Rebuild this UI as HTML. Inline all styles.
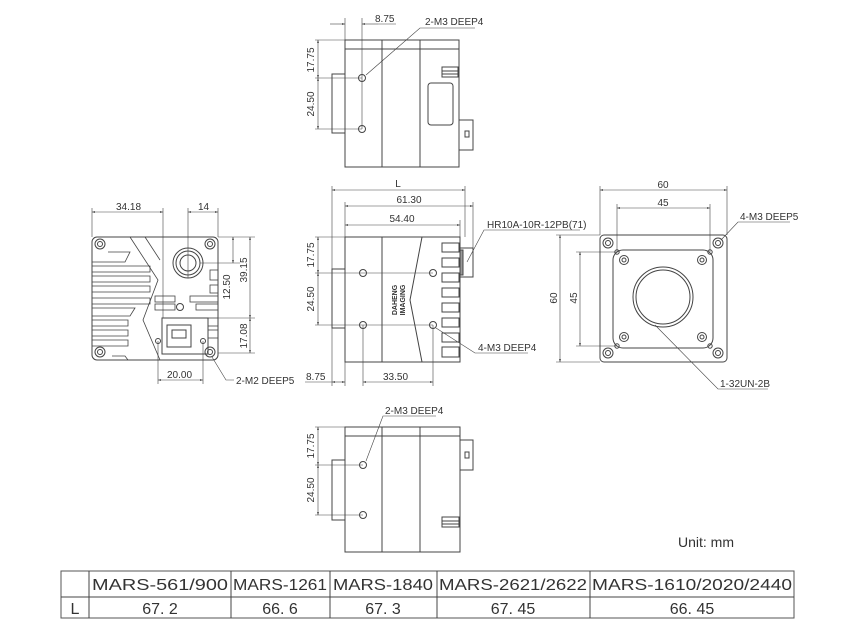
<!DOCTYPE html>
<html><head><meta charset="utf-8"><style>
html,body{margin:0;padding:0;background:#fff;}
svg{display:block;}
text{font-family:"Liberation Sans",sans-serif;fill:#333;}
</style></head><body>
<svg width="841" height="635" viewBox="0 0 841 635" xmlns="http://www.w3.org/2000/svg">
<defs>
<marker id="a" viewBox="0 0 10 10" refX="10" refY="5" markerWidth="7" markerHeight="5" orient="auto-start-reverse"><path d="M0,2 L10,5 L0,8 z" fill="#333"/></marker>
</defs>
<g stroke="#444" stroke-width="1" fill="none">

<!-- TOP VIEW -->
<rect x="345" y="40" width="114" height="127"/>
<line x1="345" y1="49" x2="459" y2="49"/>
<line x1="382" y1="40" x2="382" y2="167"/>
<line x1="420" y1="40" x2="420" y2="167"/>
<rect x="332" y="74" width="13" height="59"/>
<circle cx="362" cy="78" r="3.5"/>
<circle cx="362" cy="129" r="3.5"/>
<rect x="428" y="83" width="25" height="42" rx="3"/>
<rect x="442" y="67" width="16" height="10"/>
<line x1="442" y1="71" x2="458" y2="71"/>
<line x1="442" y1="74" x2="458" y2="74"/>
<rect x="459" y="120" width="14" height="30"/>
<rect x="465" y="131" width="4" height="6"/>
<line stroke-width="0.6" x1="345" y1="18" x2="345" y2="40"/>
<line stroke-width="0.6" x1="362" y1="18" x2="362" y2="129"/>
<line stroke-width="0.6" x1="330" y1="24" x2="345" y2="24" marker-end="url(#a)"/>
<line stroke-width="0.6" x1="378" y1="24" x2="362" y2="24" marker-end="url(#a)"/>
<line stroke-width="0.6" x1="378" y1="24" x2="396" y2="24"/>
<line stroke-width="0.6" x1="315" y1="40" x2="345" y2="40"/>
<line stroke-width="0.6" x1="315" y1="78" x2="362" y2="78"/>
<line stroke-width="0.6" x1="315" y1="129" x2="362" y2="129"/>
<line stroke-width="0.6" x1="318" y1="40" x2="318" y2="78" marker-start="url(#a)" marker-end="url(#a)"/>
<line stroke-width="0.6" x1="318" y1="78" x2="318" y2="129" marker-start="url(#a)" marker-end="url(#a)"/>
<polyline stroke-width="0.6" points="366,75 420,28 475,28"/>

<!-- MIDDLE SIDE VIEW -->
<rect x="345" y="237" width="115" height="125"/>
<line x1="382" y1="237" x2="382" y2="362"/>
<polyline points="422,237 410,300 422,362"/>
<rect x="332" y="269" width="13" height="59"/>
<g fill="#fff">
<rect x="442" y="243" width="17" height="9"/><rect x="442" y="258" width="17" height="9"/>
<rect x="442" y="273" width="17" height="9"/><rect x="442" y="288" width="17" height="9"/>
<rect x="442" y="303" width="17" height="9"/><rect x="442" y="318" width="17" height="9"/>
<rect x="442" y="333" width="17" height="9"/><rect x="442" y="347" width="17" height="10"/>
</g>
<rect x="460" y="248" width="13" height="29"/>
<rect x="460" y="250" width="3" height="25" fill="#999"/>
<circle cx="363" cy="273" r="3.5"/><circle cx="433" cy="273" r="3.5"/>
<circle cx="363" cy="325" r="3.5"/><circle cx="433" cy="325" r="3.5"/>
<line stroke-width="0.6" x1="315" y1="273" x2="433" y2="273"/>
<line stroke-width="0.6" x1="315" y1="325" x2="433" y2="325"/>
<line stroke-width="0.6" x1="315" y1="237" x2="345" y2="237"/>
<line stroke-width="0.6" x1="318" y1="237" x2="318" y2="273" marker-start="url(#a)" marker-end="url(#a)"/>
<line stroke-width="0.6" x1="318" y1="273" x2="318" y2="325" marker-start="url(#a)" marker-end="url(#a)"/>
<line stroke-width="0.6" x1="332" y1="186" x2="332" y2="386"/>
<line stroke-width="0.6" x1="345" y1="202" x2="345" y2="237"/>
<line stroke-width="0.6" x1="465" y1="186" x2="465" y2="237"/>
<line stroke-width="0.6" x1="473" y1="202" x2="473" y2="248"/>
<line stroke-width="0.6" x1="460" y1="220" x2="460" y2="237"/>
<line stroke-width="0.6" x1="332" y1="190" x2="465" y2="190" marker-start="url(#a)" marker-end="url(#a)"/>
<line stroke-width="0.6" x1="345" y1="206" x2="473" y2="206" marker-start="url(#a)" marker-end="url(#a)"/>
<line stroke-width="0.6" x1="345" y1="225" x2="460" y2="225" marker-start="url(#a)" marker-end="url(#a)"/>
<line stroke-width="0.6" x1="345" y1="362" x2="345" y2="386"/>
<line stroke-width="0.6" x1="363" y1="325" x2="363" y2="386"/>
<line stroke-width="0.6" x1="433" y1="325" x2="433" y2="386"/>
<line stroke-width="0.6" x1="305" y1="382" x2="332" y2="382"/>
<line stroke-width="0.6" x1="332" y1="382" x2="345" y2="382" marker-start="url(#a)" marker-end="url(#a)"/>
<line stroke-width="0.6" x1="363" y1="382" x2="433" y2="382" marker-start="url(#a)" marker-end="url(#a)"/>
<polyline stroke-width="0.6" points="467,262 484,230 580,230"/>
<polyline stroke-width="0.6" points="436,328 475,353 528,353"/>

<!-- LEFT VIEW -->
<rect x="92" y="237" width="126" height="123" rx="5"/>
<circle cx="100" cy="244" r="5"/><circle cx="100" cy="244" r="2.5"/>
<circle cx="210" cy="244" r="5"/><circle cx="210" cy="244" r="2.5"/>
<circle cx="100" cy="352" r="5"/><circle cx="100" cy="352" r="2.5"/>
<circle cx="210" cy="352" r="5"/><circle cx="210" cy="352" r="2.5"/>
<circle cx="188" cy="263" r="15"/><circle cx="188" cy="263" r="12"/><circle cx="188" cy="263" r="8"/>
<g stroke-width="0.8">
<polyline points="108,252 130,252 125,262 92,262"/>
<polyline points="92,266 150,266 150,272 92,272"/>
<polyline points="92,276 150,276 150,282 92,282"/>
<polyline points="92,286 150,286 150,292 92,292"/>
<polyline points="92,298 150,298 150,304 92,304"/>
<polyline points="92,308 135,308 130,316 92,316"/>
<polyline points="92,320 128,320 128,326 92,326"/>
<polyline points="92,330 128,330 128,336 92,336"/>
<polyline points="92,340 128,340 128,346 92,346"/>
<polyline points="112,356 125,356 128,360"/>
<polyline points="130,237 158,280 143,320 160,360"/>
<polyline points="145,237 160,260"/>
<rect x="155" y="296" width="20" height="6"/>
<rect x="190" y="296" width="28" height="6"/>
<rect x="155" y="304" width="20" height="6"/>
<rect x="196" y="304" width="22" height="6"/>
<rect x="210" y="270" width="8" height="10"/>
<rect x="210" y="285" width="8" height="8"/>
<rect x="208" y="318" width="10" height="8"/>
<rect x="208" y="330" width="10" height="8"/>
</g>
<circle cx="180" cy="307" r="3.5"/>
<rect x="162" y="318" width="46" height="36"/>
<rect x="167" y="325" width="24" height="22"/>
<rect x="172" y="330" width="14" height="8"/>
<circle cx="158" cy="341" r="2.5"/><circle cx="203" cy="341" r="2.5"/>
<line stroke-width="0.6" x1="92" y1="208" x2="92" y2="237"/>
<line stroke-width="0.6" x1="163" y1="208" x2="163" y2="318"/>
<line stroke-width="0.6" x1="188" y1="208" x2="188" y2="278"/>
<line stroke-width="0.6" x1="218" y1="208" x2="218" y2="237"/>
<line stroke-width="0.6" x1="92" y1="212" x2="163" y2="212" marker-start="url(#a)" marker-end="url(#a)"/>
<line stroke-width="0.6" x1="188" y1="212" x2="218" y2="212" marker-start="url(#a)" marker-end="url(#a)"/>
<line stroke-width="0.6" x1="218" y1="237" x2="255" y2="237"/>
<line stroke-width="0.6" x1="200" y1="263" x2="240" y2="263"/>
<line stroke-width="0.6" x1="218" y1="318" x2="255" y2="318"/>
<line stroke-width="0.6" x1="218" y1="353" x2="255" y2="353"/>
<line stroke-width="0.6" x1="233" y1="237" x2="233" y2="263" marker-start="url(#a)" marker-end="url(#a)"/>
<line stroke-width="0.6" x1="250" y1="237" x2="250" y2="318" marker-start="url(#a)" marker-end="url(#a)"/>
<line stroke-width="0.6" x1="250" y1="318" x2="250" y2="353" marker-start="url(#a)" marker-end="url(#a)"/>
<line stroke-width="0.6" x1="158" y1="341" x2="158" y2="384"/>
<line stroke-width="0.6" x1="203" y1="341" x2="203" y2="384"/>
<line stroke-width="0.6" x1="158" y1="380" x2="203" y2="380" marker-start="url(#a)" marker-end="url(#a)"/>
<polyline stroke-width="0.6" points="212,357 226,380 234,380"/>

<!-- RIGHT FRONT VIEW -->
<rect x="600" y="235" width="127" height="127" rx="4"/>
<rect x="613" y="250" width="100" height="98" rx="10"/>
<circle cx="663" cy="297" r="30"/><circle cx="663" cy="297" r="27"/>
<circle cx="608" cy="243" r="5"/><circle cx="608" cy="243" r="2.5"/>
<circle cx="718" cy="243" r="5"/><circle cx="718" cy="243" r="2.5"/>
<circle cx="608" cy="353" r="5"/><circle cx="608" cy="353" r="2.5"/>
<circle cx="718" cy="353" r="5"/><circle cx="718" cy="353" r="2.5"/>
<circle cx="624" cy="260" r="4.5"/><circle cx="624" cy="260" r="2"/>
<circle cx="702" cy="260" r="4.5"/><circle cx="702" cy="260" r="2"/>
<circle cx="624" cy="337" r="4.5"/><circle cx="624" cy="337" r="2"/>
<circle cx="702" cy="337" r="4.5"/><circle cx="702" cy="337" r="2"/>
<circle cx="617" cy="252" r="2.2"/><circle cx="710" cy="252" r="2.2"/>
<circle cx="617" cy="346" r="2.2"/><circle cx="710" cy="346" r="2.2"/>
<line stroke-width="0.6" x1="600" y1="186" x2="600" y2="235"/>
<line stroke-width="0.6" x1="727" y1="186" x2="727" y2="235"/>
<line stroke-width="0.6" x1="617" y1="204" x2="617" y2="252"/>
<line stroke-width="0.6" x1="710" y1="204" x2="710" y2="252"/>
<line stroke-width="0.6" x1="600" y1="190" x2="727" y2="190" marker-start="url(#a)" marker-end="url(#a)"/>
<line stroke-width="0.6" x1="617" y1="208" x2="710" y2="208" marker-start="url(#a)" marker-end="url(#a)"/>
<line stroke-width="0.6" x1="556" y1="235" x2="600" y2="235"/>
<line stroke-width="0.6" x1="556" y1="362" x2="600" y2="362"/>
<line stroke-width="0.6" x1="576" y1="252" x2="617" y2="252"/>
<line stroke-width="0.6" x1="576" y1="346" x2="617" y2="346"/>
<line stroke-width="0.6" x1="560" y1="235" x2="560" y2="362" marker-start="url(#a)" marker-end="url(#a)"/>
<line stroke-width="0.6" x1="580" y1="252" x2="580" y2="346" marker-start="url(#a)" marker-end="url(#a)"/>
<polyline stroke-width="0.6" points="721,240 738,222 790,222"/>
<polyline stroke-width="0.6" points="655,325 718,389 768,389"/>

<!-- BOTTOM VIEW -->
<rect x="345" y="427" width="115" height="125"/>
<line x1="345" y1="436" x2="460" y2="436"/>
<line x1="382" y1="427" x2="382" y2="552"/>
<line x1="420" y1="427" x2="420" y2="552"/>
<rect x="332" y="460" width="13" height="60"/>
<circle cx="363" cy="465" r="3.5"/><circle cx="363" cy="515" r="3.5"/>
<rect x="460" y="440" width="13" height="30"/>
<rect x="465" y="452" width="4" height="6"/>
<rect x="442" y="517" width="17" height="10"/>
<line x1="442" y1="521" x2="459" y2="521"/><line x1="442" y1="524" x2="459" y2="524"/>
<line stroke-width="0.6" x1="315" y1="427" x2="345" y2="427"/>
<line stroke-width="0.6" x1="315" y1="465" x2="363" y2="465"/>
<line stroke-width="0.6" x1="315" y1="515" x2="363" y2="515"/>
<line stroke-width="0.6" x1="318" y1="427" x2="318" y2="465" marker-start="url(#a)" marker-end="url(#a)"/>
<line stroke-width="0.6" x1="318" y1="465" x2="318" y2="515" marker-start="url(#a)" marker-end="url(#a)"/>
<polyline stroke-width="0.6" points="366,461 383,416 436,416"/>

<!-- TABLE -->
<rect x="61" y="571" width="733" height="47" stroke="#555"/>
<line x1="61" y1="597" x2="794" y2="597"/>
<line x1="89" y1="571" x2="89" y2="618"/>
<line x1="231" y1="571" x2="231" y2="618"/>
<line x1="330" y1="571" x2="330" y2="618"/>
<line x1="437" y1="571" x2="437" y2="618"/>
<line x1="590" y1="571" x2="590" y2="618"/>
</g>

<g font-size="10">
<text x="375" y="22">8.75</text>
<text x="425" y="25">2-M3 DEEP4</text>
<text transform="translate(314,60) rotate(-90)" text-anchor="middle">17.75</text>
<text transform="translate(314,104) rotate(-90)" text-anchor="middle">24.50</text>

<text x="398" y="187" text-anchor="middle">L</text>
<text x="409" y="203" text-anchor="middle">61.30</text>
<text x="402" y="222" text-anchor="middle">54.40</text>
<text x="487" y="228">HR10A-10R-12PB(71)</text>
<text transform="translate(314,255) rotate(-90)" text-anchor="middle">17.75</text>
<text transform="translate(314,299) rotate(-90)" text-anchor="middle">24.50</text>
<text x="306" y="380">8.75</text>
<text x="383" y="380">33.50</text>
<text x="478" y="351">4-M3 DEEP4</text>
<text transform="translate(397,300) rotate(-90)" text-anchor="middle" font-size="7" font-weight="bold">DAHENG</text>
<text transform="translate(405,300) rotate(-90)" text-anchor="middle" font-size="7" font-weight="bold">IMAGING</text>

<text x="116" y="210">34.18</text>
<text x="198" y="210">14</text>
<text transform="translate(230,287) rotate(-90)" text-anchor="middle">12.50</text>
<text transform="translate(247,270) rotate(-90)" text-anchor="middle">39.15</text>
<text transform="translate(247,336) rotate(-90)" text-anchor="middle">17.08</text>
<text x="167" y="378">20.00</text>
<text x="236" y="384">2-M2 DEEP5</text>

<text x="663" y="188" text-anchor="middle">60</text>
<text x="663" y="206" text-anchor="middle">45</text>
<text transform="translate(557,298) rotate(-90)" text-anchor="middle">60</text>
<text transform="translate(577,298) rotate(-90)" text-anchor="middle">45</text>
<text x="740" y="220">4-M3 DEEP5</text>
<text x="720" y="387">1-32UN-2B</text>

<text x="385" y="414">2-M3 DEEP4</text>
<text transform="translate(314,446) rotate(-90)" text-anchor="middle">17.75</text>
<text transform="translate(314,490) rotate(-90)" text-anchor="middle">24.50</text>
</g>

<text x="678" y="547" font-size="14" fill="#222">Unit: mm</text>

<g font-size="16" fill="#222" text-anchor="middle">
<text x="160" y="590" textLength="136" lengthAdjust="spacingAndGlyphs">MARS-561/900</text>
<text x="280" y="590" textLength="94" lengthAdjust="spacingAndGlyphs">MARS-1261</text>
<text x="383" y="590" textLength="100" lengthAdjust="spacingAndGlyphs">MARS-1840</text>
<text x="513" y="590" textLength="148" lengthAdjust="spacingAndGlyphs">MARS-2621/2622</text>
<text x="692" y="590" textLength="200" lengthAdjust="spacingAndGlyphs">MARS-1610/2020/2440</text>
<text x="75" y="614">L</text>
<text x="160" y="614">67. 2</text>
<text x="280" y="614">66. 6</text>
<text x="383" y="614">67. 3</text>
<text x="513" y="614">67. 45</text>
<text x="692" y="614">66. 45</text>
</g>
</svg>
</body></html>
